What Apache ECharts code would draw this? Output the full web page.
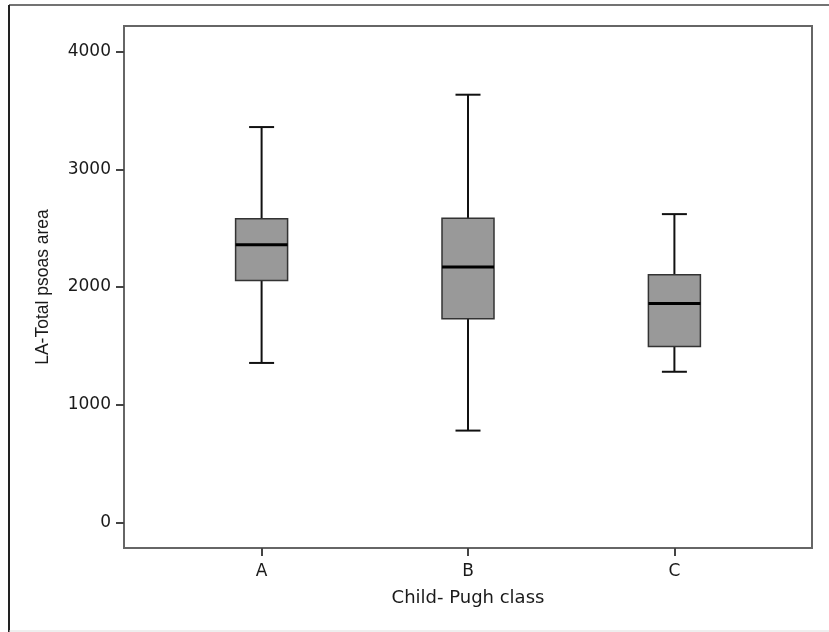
<!DOCTYPE html>
<html>
<head>
<meta charset="utf-8">
<script src="https://cdn.jsdelivr.net/npm/echarts@6/dist/echarts.min.js"></script>
<style>
  html, body { margin: 0; padding: 0; background: #fff; }
  #chart { width: 829px; height: 632px; }
</style>
</head>
<body>
<div id="chart"></div>
<script>
// box plot data (Child-Pugh class vs LA-Total psoas area)
const categories = ['A', 'B', 'C'];
const whiskerLow = [1355, 780, 1280];
const quartile1 = [2055, 1730, 1495];
const medians = [2360, 2170, 1860];
const quartile3 = [2580, 2585, 2105];
const whiskerHigh = [3360, 3635, 2620];
const yTicks = [0, 1000, 2000, 3000, 4000];
const xTicks = [1, 2, 3];

const boxData = categories.map((c, i) => [
  i + 1, whiskerLow[i], quartile1[i], medians[i], quartile3[i], whiskerHigh[i]
]);

const tickFont = { fontFamily: 'DejaVu Sans', fontSize: 17, color: '#1a1a1a' };

// draw one box with whiskers and short caps
function renderBox(params, api) {
  const x = api.value(0);
  const low = api.coord([x, api.value(1)]);
  const q1 = api.coord([x, api.value(2)]);
  const med = api.coord([x, api.value(3)]);
  const q3 = api.coord([x, api.value(4)]);
  const high = api.coord([x, api.value(5)]);
  const cx = low[0];
  const half = 26;
  const cap = 12.5;
  const lineStyle = { stroke: '#111', lineWidth: 2 };
  return {
    type: 'group',
    children: [
      { type: 'line', shape: { x1: cx, y1: q1[1], x2: cx, y2: low[1] }, style: lineStyle },
      { type: 'line', shape: { x1: cx, y1: q3[1], x2: cx, y2: high[1] }, style: lineStyle },
      { type: 'line', shape: { x1: cx - cap, y1: low[1], x2: cx + cap, y2: low[1] }, style: lineStyle },
      { type: 'line', shape: { x1: cx - cap, y1: high[1], x2: cx + cap, y2: high[1] }, style: lineStyle },
      {
        type: 'rect',
        shape: { x: cx - half, y: q3[1], width: half * 2, height: q1[1] - q3[1] },
        style: { fill: '#999999', stroke: '#333', lineWidth: 1.5 }
      },
      { type: 'line', shape: { x1: cx - half, y1: med[1], x2: cx + half, y2: med[1] }, style: { stroke: '#000', lineWidth: 3 } }
    ]
  };
}

const chart = echarts.init(document.getElementById('chart'));

const option = {
  animation: false,
  backgroundColor: '#fff',
  grid: {
    left: 124,
    right: 17,
    top: 26,
    bottom: 84,
    show: true,
    borderColor: '#666',
    borderWidth: 2
  },
  xAxis: {
    type: 'value',
    min: 1 / 3,
    max: 11 / 3,
    name: 'Child- Pugh class',
    nameLocation: 'middle',
    nameGap: 41,
    nameTextStyle: { fontFamily: 'DejaVu Sans', fontSize: 18, color: '#1a1a1a' },
    axisLine: { show: false, onZero: false },
    splitLine: { show: false },
    axisTick: {
      show: true,
      length: 8,
      customValues: xTicks,
      lineStyle: { color: '#444', width: 2 }
    },
    axisLabel: {
      margin: 15,
      customValues: xTicks,
      formatter: (v) => categories[Math.round(v) - 1],
      ...tickFont
    }
  },
  yAxis: {
    type: 'value',
    min: -218,
    max: 4219,
    name: 'LA-Total psoas area',
    nameLocation: 'middle',
    nameRotate: 90,
    nameGap: 72,
    nameTextStyle: { fontFamily: 'Liberation Sans', fontSize: 17.5, color: '#1a1a1a' },
    axisLine: { show: false, onZero: false },
    splitLine: { show: false },
    axisTick: {
      show: true,
      length: 8,
      customValues: yTicks,
      lineStyle: { color: '#444', width: 2 }
    },
    axisLabel: {
      margin: 13,
      customValues: yTicks,
      formatter: (v) => String(v),
      ...tickFont
    }
  },
  graphic: [
    { type: 'line', shape: { x1: 9, y1: 5, x2: 829, y2: 5 }, style: { stroke: '#444', lineWidth: 1.5 } },
    { type: 'line', shape: { x1: 9, y1: 5, x2: 9, y2: 632 }, style: { stroke: '#222', lineWidth: 2 } },
    { type: 'line', shape: { x1: 9, y1: 631, x2: 829, y2: 631 }, style: { stroke: '#ddd', lineWidth: 1 } }
  ],
  series: [
    {
      type: 'custom',
      renderItem: renderBox,
      encode: { x: 0, y: [1, 2, 3, 4, 5] },
      data: boxData
    }
  ]
};

chart.setOption(option);
</script>
</body>
</html>
